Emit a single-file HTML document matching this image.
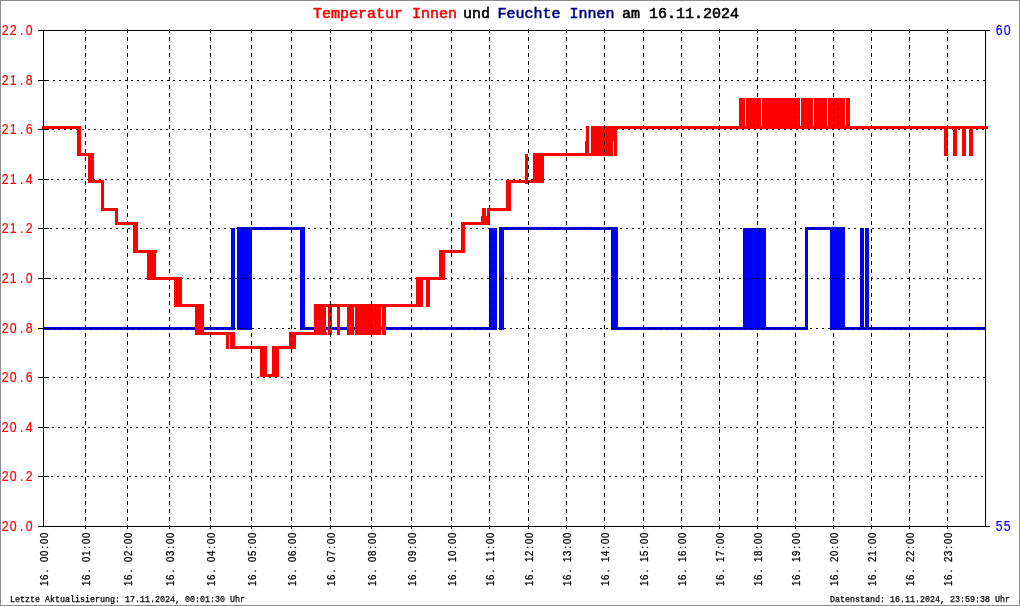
<!DOCTYPE html>
<html><head><meta charset="utf-8"><style>
html,body{margin:0;padding:0;background:#fff;overflow:hidden}
svg{display:block;will-change:transform}
</style></head><body>
<svg width="1020" height="606" viewBox="0 0 1020 606">
<rect x="0" y="0" width="1020" height="606" fill="#fff"/>
<g fill="#0000ff" shape-rendering="crispEdges"><rect x="43" y="327.0" width="192" height="3"/><rect x="231" y="228.0" width="4" height="102.0"/><rect x="237" y="228.0" width="15" height="102.0"/><rect x="237" y="227.0" width="68" height="3"/><rect x="300" y="228.0" width="5" height="102.0"/><rect x="300" y="327.0" width="197" height="3"/><rect x="489" y="228.0" width="8" height="102.0"/><rect x="499" y="228.0" width="5" height="102.0"/><rect x="499" y="227.0" width="119" height="3"/><rect x="611" y="228.0" width="7" height="102.0"/><rect x="611" y="327.0" width="155" height="3"/><rect x="743" y="228.0" width="23" height="102.0"/><rect x="743" y="327.0" width="65" height="3"/><rect x="805" y="228.0" width="3" height="102.0"/><rect x="805" y="227.0" width="40" height="3"/><rect x="830" y="228.0" width="15" height="102.0"/><rect x="830" y="327.0" width="156" height="3"/><rect x="860" y="228.0" width="4" height="102.0"/><rect x="865" y="228.0" width="4" height="102.0"/></g>
<g stroke="#000" stroke-width="1" fill="none" shape-rendering="crispEdges"><path d="M47 80.5H985" stroke-dasharray="2 4"/><path d="M46 129.5H985" stroke-dasharray="2 4"/><path d="M45 179.5H985" stroke-dasharray="2 4"/><path d="M44 228.5H985" stroke-dasharray="2 4"/><path d="M49 278.5H985" stroke-dasharray="2 4"/><path d="M48 328.5H985" stroke-dasharray="2 4"/><path d="M47 377.5H985" stroke-dasharray="2 4"/><path d="M46 427.5H985" stroke-dasharray="2 4"/><path d="M45 476.5H985" stroke-dasharray="2 4"/></g>
<g fill="#ff0000" shape-rendering="crispEdges"><rect x="42" y="126.0" width="39" height="3"/><rect x="77" y="126.0" width="4" height="30.0"/><rect x="77" y="153.0" width="17" height="3"/><rect x="88" y="153.0" width="6" height="30.0"/><rect x="88" y="180.0" width="16" height="3"/><rect x="101" y="180.0" width="3" height="31.0"/><rect x="101" y="208.0" width="17" height="3"/><rect x="115" y="208.0" width="3" height="17.0"/><rect x="115" y="222.0" width="23" height="3"/><rect x="133" y="222.0" width="5" height="31.0"/><rect x="133" y="250.0" width="24" height="3"/><rect x="147" y="250.0" width="9" height="30.0"/><rect x="147" y="277.0" width="35" height="3"/><rect x="174" y="277.0" width="8" height="30.0"/><rect x="174" y="304.0" width="30" height="3"/><rect x="195" y="304.0" width="9" height="31.0"/><rect x="196" y="332.0" width="39" height="3"/><rect x="226" y="332.0" width="3" height="17.0"/><rect x="230" y="332.0" width="5" height="17.0"/><rect x="230" y="346.0" width="35" height="3"/><rect x="260" y="346.0" width="7" height="31.0"/><rect x="260" y="374.0" width="19" height="3"/><rect x="272" y="346.0" width="7" height="31.0"/><rect x="272" y="346.0" width="24" height="3"/><rect x="289" y="332.0" width="7" height="17.0"/><rect x="290" y="332.0" width="37" height="3"/><rect x="315" y="304.0" width="5" height="31.0"/><rect x="314" y="304.0" width="12" height="31.0"/><rect x="328" y="304.0" width="4" height="31.0"/><rect x="337" y="304.0" width="3" height="31.0"/><rect x="347" y="304.0" width="7" height="31.0"/><rect x="355" y="304.0" width="26" height="31.0"/><rect x="382" y="304.0" width="4" height="31.0"/><rect x="314" y="304.0" width="108" height="3"/><rect x="416" y="277.0" width="7" height="30.0"/><rect x="416" y="277.0" width="29" height="3"/><rect x="426" y="277.0" width="4" height="30.0"/><rect x="439" y="250.0" width="6" height="30.0"/><rect x="439" y="250.0" width="26" height="3"/><rect x="461" y="222.0" width="4" height="31.0"/><rect x="461" y="222.0" width="29" height="3"/><rect x="482" y="208.0" width="4" height="17.0"/><rect x="481" y="216" width="8" height="9"/><rect x="487" y="208.0" width="3" height="17.0"/><rect x="487" y="208.0" width="24" height="3"/><rect x="506" y="180.0" width="5" height="31.0"/><rect x="506" y="180.0" width="38" height="3"/><rect x="525" y="154" width="3" height="30"/><rect x="533" y="153.0" width="11" height="30.0"/><rect x="533" y="153.0" width="71" height="3"/><rect x="586" y="126.0" width="3" height="30.0"/><rect x="585" y="141" width="1" height="15"/><rect x="591" y="126.0" width="22" height="30.0"/><rect x="613" y="126" width="4" height="15"/><rect x="614" y="126.0" width="3" height="30.0"/><rect x="591" y="126.0" width="397" height="3"/><rect x="739" y="98.0" width="6" height="31.0"/><rect x="746" y="98.0" width="15" height="31.0"/><rect x="762" y="98.0" width="38" height="31.0"/><rect x="801" y="98.0" width="12" height="31.0"/><rect x="814" y="98.0" width="13" height="31.0"/><rect x="828" y="98.0" width="17" height="31.0"/><rect x="846" y="98.0" width="4" height="31.0"/><rect x="944" y="126.0" width="4" height="30.0"/><rect x="953" y="126.0" width="4" height="30.0"/><rect x="962" y="126.0" width="4" height="30.0"/><rect x="969" y="126.0" width="4" height="30.0"/></g>
<g stroke="#000" stroke-width="1" fill="none" shape-rendering="crispEdges"><path d="M85.5 29V526" stroke-dasharray="4 4"/><path d="M127.5 29V526" stroke-dasharray="4 4"/><path d="M169.5 29V526" stroke-dasharray="4 4"/><path d="M210.5 29V526" stroke-dasharray="4 4"/><path d="M251.5 29V526" stroke-dasharray="4 4"/><path d="M291.5 29V526" stroke-dasharray="4 4"/><path d="M330.5 29V526" stroke-dasharray="4 4"/><path d="M371.5 29V526" stroke-dasharray="4 4"/><path d="M411.5 29V526" stroke-dasharray="4 4"/><path d="M451.5 29V526" stroke-dasharray="4 4"/><path d="M489.5 29V526" stroke-dasharray="4 4"/><path d="M528.5 29V526" stroke-dasharray="4 4"/><path d="M566.5 29V526" stroke-dasharray="4 4"/><path d="M604.5 29V526" stroke-dasharray="4 4"/><path d="M643.5 29V526" stroke-dasharray="4 4"/><path d="M681.5 29V526" stroke-dasharray="4 4"/><path d="M719.5 29V526" stroke-dasharray="4 4"/><path d="M757.5 29V526" stroke-dasharray="4 4"/><path d="M795.5 29V526" stroke-dasharray="4 4"/><path d="M833.5 29V526" stroke-dasharray="4 4"/><path d="M871.5 29V526" stroke-dasharray="4 4"/><path d="M909.5 29V526" stroke-dasharray="4 4"/><path d="M947.5 29V526" stroke-dasharray="4 4"/><path d="M38 30.5H990M38 526.5H990M43.5 30V527M985.5 30V527"/><path d="M38 80.5H49"/><path d="M38 129.5H49"/><path d="M38 179.5H49"/><path d="M38 228.5H49"/><path d="M38 278.5H49"/><path d="M38 328.5H49"/><path d="M38 377.5H49"/><path d="M38 427.5H49"/><path d="M38 476.5H49"/><path d="M85.5 525V529"/><path d="M127.5 525V529"/><path d="M169.5 525V529"/><path d="M210.5 525V529"/><path d="M251.5 525V529"/><path d="M291.5 525V529"/><path d="M330.5 525V529"/><path d="M371.5 525V529"/><path d="M411.5 525V529"/><path d="M451.5 525V529"/><path d="M489.5 525V529"/><path d="M528.5 525V529"/><path d="M566.5 525V529"/><path d="M604.5 525V529"/><path d="M643.5 525V529"/><path d="M681.5 525V529"/><path d="M719.5 525V529"/><path d="M757.5 525V529"/><path d="M795.5 525V529"/><path d="M833.5 525V529"/><path d="M871.5 525V529"/><path d="M909.5 525V529"/><path d="M947.5 525V529"/></g>
<rect x="0.5" y="0.5" width="1019" height="605" fill="none" stroke="#8c8c8c" stroke-width="1" shape-rendering="crispEdges"/>
<g font-family="Liberation Sans" fill="#ff0000" stroke="#ff0000" stroke-width="0.2" font-size="14"><text transform="translate(0 35) scale(0.88 1)" x="2.05 11.14 22.73 29.32" y="0">22.0</text><text transform="translate(0 85) scale(0.88 1)" x="2.05 11.14 22.73 29.32" y="0">21.8</text><text transform="translate(0 134) scale(0.88 1)" x="2.05 11.14 22.73 29.32" y="0">21.6</text><text transform="translate(0 184) scale(0.88 1)" x="2.05 11.14 22.73 29.32" y="0">21.4</text><text transform="translate(0 233) scale(0.88 1)" x="2.05 11.14 22.73 29.32" y="0">21.2</text><text transform="translate(0 283) scale(0.88 1)" x="2.05 11.14 22.73 29.32" y="0">21.0</text><text transform="translate(0 333) scale(0.88 1)" x="2.05 11.14 22.73 29.32" y="0">20.8</text><text transform="translate(0 382) scale(0.88 1)" x="2.05 11.14 22.73 29.32" y="0">20.6</text><text transform="translate(0 432) scale(0.88 1)" x="2.05 11.14 22.73 29.32" y="0">20.4</text><text transform="translate(0 481) scale(0.88 1)" x="2.05 11.14 22.73 29.32" y="0">20.2</text><text transform="translate(0 531) scale(0.88 1)" x="2.05 11.14 22.73 29.32" y="0">20.0</text></g>
<g font-family="Liberation Sans" fill="#0000ff" stroke="#0000ff" stroke-width="0.2" font-size="14"><text transform="translate(0 35) scale(0.88 1)" x="1131.59 1140.68" y="0">60</text><text transform="translate(0 531) scale(0.88 1)" x="1131.59 1140.68" y="0">55</text></g>
<g font-family="Liberation Sans" fill="#000" stroke="#000" stroke-width="0.3" font-size="11.2"><text transform="translate(48 586) rotate(-90) scale(0.85 1)" x="0.00 7.06 16.24 21.18 28.24 35.29 43.88 49.41 56.47">16. 00:00</text><text transform="translate(90 586) rotate(-90) scale(0.85 1)" x="0.00 7.06 16.24 21.18 28.24 35.29 43.88 49.41 56.47">16. 01:00</text><text transform="translate(132 586) rotate(-90) scale(0.85 1)" x="0.00 7.06 16.24 21.18 28.24 35.29 43.88 49.41 56.47">16. 02:00</text><text transform="translate(174 586) rotate(-90) scale(0.85 1)" x="0.00 7.06 16.24 21.18 28.24 35.29 43.88 49.41 56.47">16. 03:00</text><text transform="translate(215 586) rotate(-90) scale(0.85 1)" x="0.00 7.06 16.24 21.18 28.24 35.29 43.88 49.41 56.47">16. 04:00</text><text transform="translate(256 586) rotate(-90) scale(0.85 1)" x="0.00 7.06 16.24 21.18 28.24 35.29 43.88 49.41 56.47">16. 05:00</text><text transform="translate(296 586) rotate(-90) scale(0.85 1)" x="0.00 7.06 16.24 21.18 28.24 35.29 43.88 49.41 56.47">16. 06:00</text><text transform="translate(335 586) rotate(-90) scale(0.85 1)" x="0.00 7.06 16.24 21.18 28.24 35.29 43.88 49.41 56.47">16. 07:00</text><text transform="translate(376 586) rotate(-90) scale(0.85 1)" x="0.00 7.06 16.24 21.18 28.24 35.29 43.88 49.41 56.47">16. 08:00</text><text transform="translate(416 586) rotate(-90) scale(0.85 1)" x="0.00 7.06 16.24 21.18 28.24 35.29 43.88 49.41 56.47">16. 09:00</text><text transform="translate(456 586) rotate(-90) scale(0.85 1)" x="0.00 7.06 16.24 21.18 28.24 35.29 43.88 49.41 56.47">16. 10:00</text><text transform="translate(494 586) rotate(-90) scale(0.85 1)" x="0.00 7.06 16.24 21.18 28.24 35.29 43.88 49.41 56.47">16. 11:00</text><text transform="translate(533 586) rotate(-90) scale(0.85 1)" x="0.00 7.06 16.24 21.18 28.24 35.29 43.88 49.41 56.47">16. 12:00</text><text transform="translate(571 586) rotate(-90) scale(0.85 1)" x="0.00 7.06 16.24 21.18 28.24 35.29 43.88 49.41 56.47">16. 13:00</text><text transform="translate(609 586) rotate(-90) scale(0.85 1)" x="0.00 7.06 16.24 21.18 28.24 35.29 43.88 49.41 56.47">16. 14:00</text><text transform="translate(648 586) rotate(-90) scale(0.85 1)" x="0.00 7.06 16.24 21.18 28.24 35.29 43.88 49.41 56.47">16. 15:00</text><text transform="translate(686 586) rotate(-90) scale(0.85 1)" x="0.00 7.06 16.24 21.18 28.24 35.29 43.88 49.41 56.47">16. 16:00</text><text transform="translate(724 586) rotate(-90) scale(0.85 1)" x="0.00 7.06 16.24 21.18 28.24 35.29 43.88 49.41 56.47">16. 17:00</text><text transform="translate(762 586) rotate(-90) scale(0.85 1)" x="0.00 7.06 16.24 21.18 28.24 35.29 43.88 49.41 56.47">16. 18:00</text><text transform="translate(800 586) rotate(-90) scale(0.85 1)" x="0.00 7.06 16.24 21.18 28.24 35.29 43.88 49.41 56.47">16. 19:00</text><text transform="translate(838 586) rotate(-90) scale(0.85 1)" x="0.00 7.06 16.24 21.18 28.24 35.29 43.88 49.41 56.47">16. 20:00</text><text transform="translate(876 586) rotate(-90) scale(0.85 1)" x="0.00 7.06 16.24 21.18 28.24 35.29 43.88 49.41 56.47">16. 21:00</text><text transform="translate(914 586) rotate(-90) scale(0.85 1)" x="0.00 7.06 16.24 21.18 28.24 35.29 43.88 49.41 56.47">16. 22:00</text><text transform="translate(952 586) rotate(-90) scale(0.85 1)" x="0.00 7.06 16.24 21.18 28.24 35.29 43.88 49.41 56.47">16. 23:00</text></g>
<g font-family="Liberation Mono" font-size="15" stroke-width="0.55"><text x="313" y="18" fill="#ff0000" stroke="#ff0000">Temperatur Innen</text><text x="463" y="18" fill="#000" stroke="#000">und</text><text x="497.5" y="18" fill="#000080" stroke="#000080">Feuchte Innen</text><text x="622" y="18" fill="#000" stroke="#000">am 16.11.2024</text></g>
<g font-family="Liberation Mono" fill="#000" font-size="9" stroke="#000" stroke-width="0.25"><text x="10" y="602" textLength="235" lengthAdjust="spacingAndGlyphs">Letzte Aktualisierung: 17.11.2024, 00:01:30 Uhr</text><text x="830" y="602" textLength="180" lengthAdjust="spacingAndGlyphs">Datenstand: 16.11.2024, 23:59:38 Uhr</text></g>
</svg>
</body></html>
